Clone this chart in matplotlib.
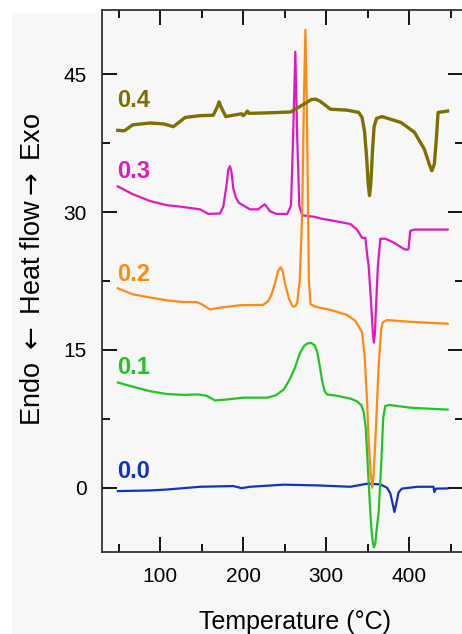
import matplotlib.pyplot as plt
from matplotlib.patches import Rectangle

plt.rcParams['font.family'] = ['Liberation Sans', 'DejaVu Sans']
plt.rcParams['mathtext.fontset'] = 'dejavusans'

# DSC curves: temperature (C) and heat flow (offset)
t_00 = [49, 88, 108, 148, 188, 198, 208, 249, 289, 329, 349, 365, 373, 377, 379.5, 382, 384.5, 387, 391, 410, 429, 430, 432, 446]
h_00 = [-0.37, -0.3, -0.2, 0.1, 0.18, -0.05, 0.1, 0.33, 0.25, 0.1, 0.43, 0.36, 0.0, -0.6, -1.6, -2.65, -1.6, -0.5, -0.1, 0.1, 0.1, -0.48, -0.1, -0.08]

t_01 = [49, 67, 88, 108, 128, 146, 156, 166, 180, 200, 229, 239, 249, 256, 262, 268, 273, 277, 282, 286, 289, 292, 295, 298, 301, 313, 329,
        337, 342, 345, 347.5, 351, 354, 356, 357.5, 359, 361, 363, 366, 368.5, 371, 376, 402, 446]
h_01 = [11.45, 11.0, 10.5, 10.2, 10.1, 10.15, 10.0, 9.5, 9.6, 9.8, 9.8, 10.05, 10.7, 11.8, 13.0, 14.6, 15.4, 15.7, 15.75, 15.5, 14.8, 13.3, 11.6, 10.5, 10.15, 10.0, 9.7,
        9.4, 9.0, 8.2, 6.5, 0.5, -4.2, -6.0, -6.5, -6.0, -4.2, -2.7, 2.35, 7.6, 8.9, 9.0, 8.7, 8.5]

t_02 = [49, 67, 88, 108, 128, 144, 150, 160, 172, 196, 224, 230, 234, 239, 242, 245, 247.5, 250, 255, 259, 261, 263, 265, 268, 271, 273, 274.8, 276.5, 279, 281, 287,
        305, 325, 335, 340, 343, 346, 349, 351, 353.5, 355.3, 357, 359.5, 363, 366, 368, 373, 402, 446]
h_02 = [21.7, 21.05, 20.7, 20.4, 20.2, 20.2, 19.97, 19.4, 19.6, 19.86, 19.9, 20.3, 21.0, 22.5, 23.6, 24.0, 23.6, 22.3, 20.6, 19.8, 19.7, 19.8, 20.15, 22.5, 30.0, 42.0, 49.85, 42.0, 22.7, 19.97, 19.7,
        19.35, 18.8, 18.15, 17.4, 16.9, 14.5, 9.5, 5.0, 1.5, 0.0, 1.5, 6.0, 13.25, 17.2, 18.0, 18.25, 18.05, 17.85]

t_03 = [49, 67, 88, 108, 124, 148, 158, 172, 176, 180, 182, 184, 186, 188, 191, 195, 208, 218, 222, 226, 229, 232, 240, 253, 257.5, 260, 262.7, 265, 267.5, 271,
        285, 293, 309, 329, 337, 343, 347, 349, 351, 354, 356, 357.3, 358.5, 360, 362, 365, 371, 381, 393, 397, 399, 401, 406, 446]
h_03 = [32.8, 31.95, 31.2, 30.75, 30.6, 30.3, 29.8, 29.85, 30.6, 33.0, 34.6, 35.0, 34.3, 32.6, 31.6, 31.0, 30.3, 30.3, 30.6, 30.85, 30.5, 30.1, 29.8, 29.8, 30.7, 38.0, 47.45, 38.0, 30.7, 29.65,
        29.5, 29.3, 29.05, 28.7, 28.1, 27.2, 27.2, 25.5, 24.1, 20.0, 16.8, 15.8, 16.8, 20.0, 24.0, 27.1, 27.1, 26.7, 26.0, 25.9, 26.0, 27.95, 28.1, 28.1]

t_04 = [49, 57, 67, 88, 104, 116, 130, 148, 164, 169, 171, 173, 179, 188, 198, 200, 203, 205, 207, 229, 257, 273, 282, 287, 292, 305, 325,
        339, 343, 346, 348.5, 350.5, 352, 353.5, 355.5, 357.5, 360.5, 367, 390, 406, 418, 424, 427, 430, 432.5, 434.5, 446]
h_04 = [38.9, 38.85, 39.5, 39.7, 39.6, 39.3, 40.3, 40.5, 40.55, 41.5, 42.0, 41.5, 40.4, 40.55, 40.7, 40.5, 40.75, 41.0, 40.75, 40.8, 40.9, 41.75, 42.25, 42.3, 42.1, 41.2, 41.1,
        40.85, 40.3, 38.8, 36.0, 33.0, 31.8, 33.0, 36.5, 39.3, 40.2, 40.4, 39.75, 38.7, 36.85, 35.2, 34.5, 35.2, 38.0, 40.85, 41.0]

labels = ['0.0', '0.1', '0.2', '0.3', '0.4']
label_y = [1.8, 13.1, 23.2, 34.45, 42.1]
colors = ['#1232c0', '#22c422', '#ff8a10', '#e018c0', '#7c7000']

fig = plt.figure(figsize=(4.62, 6.34), dpi=100)
fig.patch.set_facecolor('white')
fig.patches.append(Rectangle((12 / 462, 0), 1, 1 - 13 / 634, transform=fig.transFigure,
                             facecolor='#f7f7f7', edgecolor='none', zorder=-10))
ax = fig.add_axes([102 / 462, 82 / 634, 1.003 - 102 / 462, 542 / 634])
ax.set_facecolor('#f7f7f7')

ax.plot(t_00, h_00, color=colors[0], lw=1.6)
ax.plot(t_03, h_03, color=colors[3], lw=1.6)
ax.plot(t_02, h_02, color=colors[2], lw=1.6)
ax.plot(t_01, h_01, color=colors[1], lw=1.6)
ax.plot(t_04, h_04, color=colors[4], lw=2.4)

for lab, y, c in zip(labels, label_y, colors):
    ax.text(48, y, lab, color=c, fontsize=17, fontweight='bold', va='center', ha='left')

ax.set_xlim(30, 465)
ax.set_ylim(-7, 52)
ax.set_xticks([100, 200, 300, 400])
ax.set_xticks([50, 150, 250, 350, 450], minor=True)
ax.set_yticks([0, 15, 30, 45])
ax.set_yticks([7.5, 22.5, 37.5], minor=True)
ax.tick_params(which='both', direction='in', top=True, right=True, width=1.3, labelsize=15)
ax.tick_params(which='major', length=11)
ax.tick_params(which='minor', length=5.5)
ax.tick_params(axis='x', pad=11)
ax.tick_params(axis='y', pad=11)
for s in ax.spines.values():
    s.set_linewidth(1.3)
    s.set_color('#333333')

fig.text(295 / 462, 1 - 622 / 634, 'Temperature (°C)', fontsize=18, ha='center', va='center')
fig.text(33 / 462, 1 - 269 / 634, r'Endo $\leftarrow$ Heat flow$\rightarrow$ Exo', fontsize=19.5,
         rotation=90, ha='center', va='center')

plt.savefig('out.png', dpi=100)
